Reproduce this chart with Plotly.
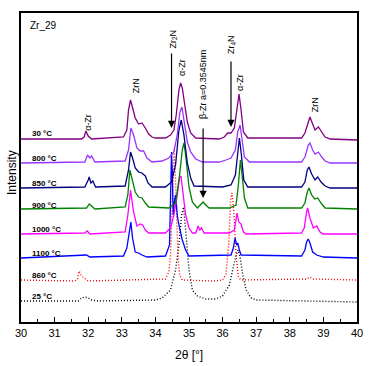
import plotly.graph_objects as go

# ---- data (2θ in degrees, intensity in arbitrary offset units) ----
t30_x = [30.0, 31.8, 31.88, 31.93, 32.0, 32.1, 33.05, 33.15, 33.2, 33.26, 33.3, 33.4, 33.5, 33.6, 33.7, 33.8, 33.9, 34.0,
         34.3, 34.45, 34.55, 34.62, 34.7, 34.75, 34.8, 34.87, 34.95, 35.05, 35.2, 35.9, 36.05, 36.15, 36.25, 36.35,
         36.42, 36.49, 36.55, 36.62, 36.75, 38.35, 38.45, 38.52, 38.6, 38.68, 38.75, 38.85, 38.95, 39.05, 39.2, 40.0]
t30_y = [183, 183, 185, 191, 186, 183, 185, 192, 212, 222, 217, 204, 198, 199, 194, 188, 185, 184,
         184, 187, 192, 207, 232, 239, 234, 217, 200, 189, 184, 183, 185, 189, 189, 194,
         212, 228, 212, 190, 184, 184, 189, 197, 205, 198, 192, 195, 190, 185, 183, 182]

t800_x = [30.0, 31.9, 31.98, 32.05, 32.1, 32.2, 33.1, 33.2, 33.27, 33.35, 33.45, 33.55, 33.65, 33.75, 33.9,
          34.2, 34.4, 34.55, 34.65, 34.73, 34.79, 34.85, 34.95, 35.05, 35.2, 35.4, 35.9, 36.1, 36.25, 36.38,
          36.45, 36.52, 36.58, 36.65, 36.8, 38.35, 38.45, 38.55, 38.6, 38.68, 38.75, 38.85, 38.95, 39.05, 39.2, 40.0]
t800_y = [159, 160, 167, 164, 166, 160, 161, 172, 194, 187, 174, 171, 171, 164, 160,
          161, 164, 170, 187, 210, 215, 202, 180, 170, 163, 160, 160, 162, 164, 172,
          190, 197, 182, 165, 160, 160, 165, 177, 179, 172, 168, 170, 165, 161, 159, 159]

t850_x = [30.0, 31.9, 32.0, 32.03, 32.08, 32.14, 32.22, 33.1, 33.2, 33.26, 33.32, 33.4, 33.5, 33.6, 33.7, 33.78, 33.9,
          34.3, 34.48, 34.6, 34.7, 34.77, 34.85, 34.95, 35.05, 35.15, 36.0, 36.25, 36.38, 36.45, 36.5, 36.56,
          36.63, 36.75, 38.35, 38.45, 38.52, 38.57, 38.65, 38.75, 38.83, 38.93, 39.05, 39.2, 40.0]
t850_y = [134, 135, 142, 145, 139, 141, 135, 136, 152, 170, 164, 154, 150, 149, 146, 139, 135,
          135, 140, 157, 192, 202, 187, 159, 144, 136, 135, 137, 147, 172, 184, 167,
          142, 135, 135, 140, 152, 155, 148, 142, 145, 140, 136, 134, 134]

t900_x = [30.0, 31.95, 32.03, 32.12, 32.2, 33.1, 33.18, 33.24, 33.3, 33.4, 33.5, 33.6, 33.7, 33.8,
          34.4, 34.6, 34.72, 34.8, 34.85, 34.9, 35.0, 35.1, 35.25, 35.35, 35.42, 35.5, 35.6,
          36.2, 36.4, 36.47, 36.53, 36.58, 36.65, 36.75, 38.35, 38.45, 38.52, 38.57, 38.65, 38.75,
          38.83, 38.95, 39.05, 40.0]
t900_y = [113, 114, 118, 115, 113, 115, 127, 152, 144, 130, 125, 124, 119, 115,
          114, 119, 147, 172, 179, 167, 135, 120, 114, 117, 120, 117, 114,
          114, 117, 137, 162, 147, 124, 114, 114, 119, 130, 134, 127, 123,
          124, 118, 114, 113]

t1000_x = [30.0, 31.9, 31.97, 32.05, 33.1, 33.18, 33.26, 33.35, 33.45, 33.55, 33.62, 33.7, 33.8,
           34.3, 34.45, 34.55, 34.65, 34.72, 34.76, 34.82, 34.9, 35.0, 35.1, 35.2, 35.27, 35.32, 35.37, 35.45,
           36.2, 36.35, 36.4, 36.43, 36.48, 36.55, 36.62, 36.7, 38.35, 38.43, 38.5, 38.53, 38.6, 38.7,
           38.8, 38.9, 39.0, 40.0]
t1000_y = [88, 89, 91, 88, 90, 107, 132, 110, 96, 98, 97, 92, 89,
           89, 94, 107, 127, 144, 146, 127, 107, 94, 89, 89, 96, 92, 94, 89,
           89, 92, 102, 109, 100, 98, 90, 88, 89, 94, 110, 114, 104, 94,
           96, 90, 88, 88]

t1100_x = [30.0, 31.95, 32.05, 33.05, 33.15, 33.22, 33.27, 33.32, 33.4, 33.5, 33.6, 33.75,
           34.3, 34.42, 34.46, 34.48, 34.5, 34.53, 34.57, 34.6, 34.65, 34.7, 34.8, 34.9, 35.0,
           36.25, 36.32, 36.37, 36.42, 36.45, 36.5, 36.55, 38.35, 38.45, 38.5, 38.55, 38.6, 38.68,
           38.8, 39.0, 40.0]
t1100_y = [64, 67, 65, 66, 74, 90, 100, 84, 70, 69, 67, 65,
           66, 77, 142, 170, 152, 107, 122, 127, 107, 97, 82, 72, 66,
           67, 74, 84, 77, 79, 72, 67, 66, 72, 80, 83, 79, 70,
           67, 65, 64]

t860_x = [30.0, 31.6, 31.68, 31.73, 31.8, 31.9, 32.0, 34.3, 34.4, 34.45, 34.5, 34.56, 34.62, 34.67, 34.72, 34.8,
          35.7, 36.0, 36.1, 36.18, 36.24, 36.28, 36.33, 36.4, 36.47, 36.55, 38.5, 38.6, 38.7, 40.0]
t860_y = [42, 41, 43, 51, 46, 43, 41, 43, 50, 67, 122, 174, 122, 67, 47, 42,
          41, 42, 48, 77, 122, 129, 112, 67, 45, 42, 43, 45, 43, 42]

t25_x = [30.0, 31.7, 31.8, 31.9, 32.0, 32.1, 32.3, 34.0, 34.2, 34.45, 34.6, 34.7, 34.78, 34.84, 34.9, 35.0, 35.1,
         35.25, 35.5, 35.8, 36.0, 36.2, 36.3, 36.4, 36.46, 36.52, 36.6, 36.7, 36.85, 37.0, 38.5, 40.0]
t25_y = [21, 21, 24, 25, 24, 22, 21, 22, 24, 32, 52, 77, 107, 115, 92, 52, 32,
         26, 23, 23, 26, 37, 52, 67, 72, 65, 47, 32, 24, 22, 21, 20]

series_names = ["30 °C", "800 °C", "850 °C", "900 °C", "1000 °C", "1100 °C", "860 °C", "25 °C"]
series_x = [t30_x, t800_x, t850_x, t900_x, t1000_x, t1100_x, t860_x, t25_x]
series_y = [t30_y, t800_y, t850_y, t900_y, t1000_y, t1100_y, t860_y, t25_y]
series_colors = ["#800080", "#9933FF", "#000080", "#008000", "#FF00FF", "#0000FF", "#FF0000", "#000000"]
series_dash = ["solid"] * 6 + ["1px,2px", "1px,2px"]
label_y = [189, 164, 139, 117, 93, 69, 47, 26]

# phase labels: text, x, y
phase_text = ["α-Zr", "ZrN", "Zr<sub>2</sub>N", "α-Zr", "β-Zr a=0.3545nm", "Zr<sub>4</sub>N", "α-Zr", "ZrN"]
phase_x = [31.99, 33.43, 34.51, 34.79, 35.42, 36.25, 36.52, 38.76]
phase_y = [200, 236, 283, 255, 237, 277, 239, 217]

# arrows: x, head y, tail y
arrow_x = [34.48, 35.42, 36.25]
arrow_head = [194, 124, 195]
arrow_tail = [270, 195, 262]

fig = go.Figure()
order = list(range(len(series_names)))[::-1]
for i in order:
    fig.add_trace(go.Scatter(
        x=series_x[i], y=series_y[i], mode="lines",
        line=dict(color=series_colors[i], width=1.3 if i < 6 else 1.4, dash=series_dash[i]),
        name=series_names[i], showlegend=False, hoverinfo="skip"))

ann = []
for name, yy in zip(series_names, label_y):
    ann.append(dict(x=30.27, y=yy, xref="x", yref="y", text="<b>" + name + "</b>", showarrow=False,
                    xanchor="left", yanchor="middle", font=dict(family="Arial", size=8, color="black")))
for t, xx, yy in zip(phase_text, phase_x, phase_y):
    ann.append(dict(x=xx, y=yy, xref="x", yref="y", text=t, showarrow=False, textangle=-90,
                    xanchor="center", yanchor="middle", font=dict(family="Arial", size=9, color="black")))
for xx, h, tl in zip(arrow_x, arrow_head, arrow_tail):
    ann.append(dict(x=xx, y=h, ax=xx, ay=tl, xref="x", yref="y", axref="x", ayref="y", text="",
                    showarrow=True, arrowhead=2, arrowsize=1.2, arrowwidth=1.2, arrowcolor="black"))
ann.append(dict(x=30.2, y=297, xref="x", yref="y", text="Zr_29", showarrow=False, xanchor="left",
                yanchor="middle", font=dict(family="Arial", size=10, color="black")))
ann.append(dict(x=-0.027, y=0.485, xref="paper", yref="paper", text="Intensity", showarrow=False,
                textangle=-90, xanchor="center", yanchor="middle", font=dict(family="Arial", size=12, color="black")))
ann.append(dict(x=0.5, y=-0.107, xref="paper", yref="paper", text="2θ [°]", showarrow=False,
                xanchor="center", yanchor="middle", font=dict(family="Arial", size=12, color="black")))

fig.update_layout(
    width=369, height=366,
    margin=dict(l=21, r=12, t=13, b=44, autoexpand=False),
    paper_bgcolor="white", plot_bgcolor="white",
    annotations=ann,
    xaxis=dict(range=[30, 40], tickmode="linear", tick0=30, dtick=1, ticks="inside", ticklen=5,
               tickcolor="black", showline=True, linecolor="black", linewidth=1.5, mirror=True,
               showgrid=False, zeroline=False, automargin=False,
               tickfont=dict(family="Arial", size=11, color="black"),
               minor=dict(ticks="inside", ticklen=3, dtick=0.5, tickcolor="black")),
    yaxis=dict(range=[0, 309], showticklabels=False, ticks="", showline=True, linecolor="black",
               linewidth=1.5, mirror=True, showgrid=False, zeroline=False, automargin=False),
)
fig.write_html("out.html", config={"displayModeBar": False},
               post_script="document.body.style.margin='0px';document.body.style.overflow='hidden';")
